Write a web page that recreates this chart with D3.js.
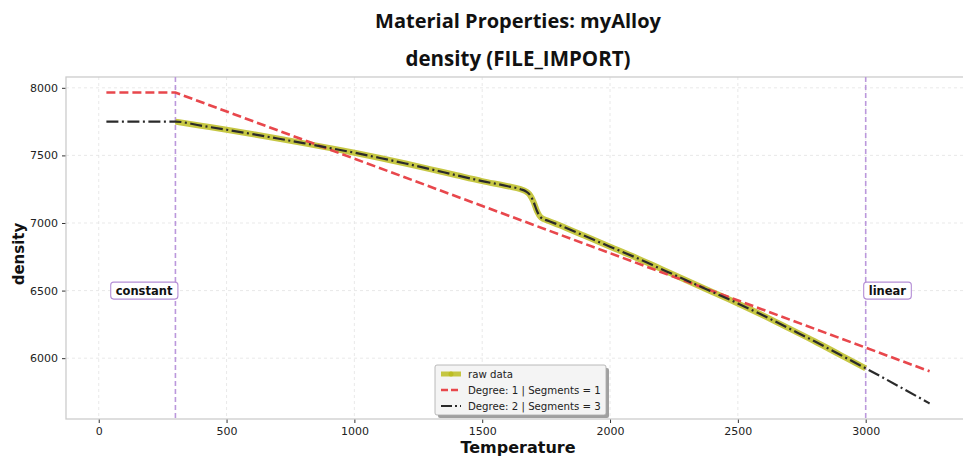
<!DOCTYPE html>
<html><head><meta charset="utf-8">
<script src="https://cdn.jsdelivr.net/npm/d3@7/dist/d3.min.js"></script>
<style>body{margin:0;background:#fff}svg{display:block}</style>
</head><body><div id="chart"></div>
<script>
// ---- data ----
const rawTemp = [300,400,500,600,700,800,900,1000,1100,1200,1300,1400,1500,1600,1650,1670,1685,1700,1715,1730,1760,1800,1900,2000,2100,2200,2300,2400,2500,2600,2700,2800,2900,3000];
const rawDensity = [7750,7720,7690,7658,7625,7591,7556,7520,7481,7440,7397,7353,7310,7272,7250,7235,7212,7160,7085,7040,7015,6985,6905,6825,6745,6660,6575,6490,6405,6315,6220,6125,6025,5925];
const fit1Temp = [30,300,3250];
const fit1Density = [7965,7965,5903];
const fit2ConstTemp = [30,300];
const fit2ConstDensity = [7750,7750];
const fit2ExtrapTemp = [3000,3250];
const fit2ExtrapDensity = [5925,5665];
const boundaries = [{t:300,label:"constant",side:"left"},{t:3000,label:"linear",side:"right"}];
const xTicks = [0,500,1000,1500,2000,2500,3000];
const yTicks = [6000,6500,7000,7500,8000];
const legendLabels = ["raw data","Degree: 1 | Segments = 1","Degree: 2 | Segments = 3"];

const W=963,H=457;
const m={l:66,r:970,t:77,b:419};
const svg=d3.select("#chart").append("svg").attr("width",W).attr("height",H);
const x=d3.scaleLinear().domain([-128,3408]).range([m.l,m.r]);
const y=d3.scaleLinear().domain([5550,8080]).range([m.b,m.t]);

svg.append("defs").append("clipPath").attr("id","clip").append("rect")
  .attr("x",m.l).attr("y",m.t).attr("width",m.r-m.l).attr("height",m.b-m.t);

// grid
const g=svg.append("g");
g.selectAll(".gx").data(xTicks).join("line").attr("x1",d=>x(d)).attr("x2",d=>x(d)).attr("y1",m.t).attr("y2",m.b)
 .attr("stroke","#e3e3e3").attr("stroke-width",0.8).attr("stroke-dasharray","3,3");
g.selectAll(".gy").data(yTicks).join("line").attr("y1",d=>y(d)).attr("y2",d=>y(d)).attr("x1",m.l).attr("x2",m.r)
 .attr("stroke","#e3e3e3").attr("stroke-width",0.8).attr("stroke-dasharray","3,3");

// axes
const xAxis=svg.append("g").attr("transform",`translate(0,${m.b})`)
  .call(d3.axisBottom(x).tickValues(xTicks).tickSize(4).tickPadding(4).tickFormat(d3.format("d")));
const yAxis=svg.append("g").attr("transform",`translate(${m.l},0)`)
  .call(d3.axisLeft(y).tickValues(yTicks).tickSize(4).tickPadding(4).tickFormat(d3.format("d")));
[xAxis,yAxis].forEach(a=>{a.select(".domain").remove();
  a.selectAll("text").attr("font-family","DejaVu Sans").attr("font-size",11).attr("fill","#222");
  a.selectAll("line").attr("stroke","#333");});

// frame
svg.append("rect").attr("x",m.l).attr("y",m.t).attr("width",m.r-m.l).attr("height",m.b-m.t)
  .attr("fill","none").attr("stroke","#cccccc").attr("stroke-width",1.3);

const plot=svg.append("g").attr("clip-path","url(#clip)");
const line=d3.line().x(d=>x(d[0])).y(d=>y(d[1]));
const rawPts=rawTemp.map((t,i)=>[t,rawDensity[i]]);

// vertical boundary lines
plot.selectAll(".vb").data(boundaries).join("line").attr("x1",d=>x(d.t)).attr("x2",d=>x(d.t))
  .attr("y1",m.t).attr("y2",m.b).attr("stroke","#bb98dc").attr("stroke-width",1.6).attr("stroke-dasharray","5,3");

// raw data
plot.append("path").datum(rawPts).attr("d",line.curve(d3.curveMonotoneX)).attr("fill","none")
  .attr("stroke","#bcbd22").attr("stroke-opacity",0.85).attr("stroke-width",6).attr("stroke-linejoin","round");
// fit 1
plot.append("path").datum(fit1Temp.map((t,i)=>[t,fit1Density[i]])).attr("d",line.curve(d3.curveLinear)).attr("fill","none")
  .attr("stroke","#e8474c").attr("stroke-width",2.6).attr("stroke-dasharray","9,4");
// fit 2
const fit2Pts=fit2ConstTemp.map((t,i)=>[t,fit2ConstDensity[i]])
  .concat(rawPts.slice(1))
  .concat(fit2ExtrapTemp.slice(1).map((t,i)=>[t,fit2ExtrapDensity[i+1]]));
plot.append("path").datum(fit2Pts).attr("d",line.curve(d3.curveMonotoneX)).attr("fill","none")
  .attr("stroke","#2a2a2a").attr("stroke-width",2.2).attr("stroke-dasharray","12,3.5,2,3.5");

// boundary labels
boundaries.forEach(b=>{
  const ty=y(6500);
  const lab=svg.append("g");
  const txt=lab.append("text").text(b.label).attr("font-family","DejaVu Sans").attr("font-weight","bold")
    .attr("font-size",11.5).attr("fill","#111").attr("dominant-baseline","central").attr("y",ty);
  if(b.side==="left"){txt.attr("text-anchor","end").attr("x",x(b.t)-3);}
  else{txt.attr("text-anchor","start").attr("x",x(b.t)+3);}
  const bb=txt.node().getBBox();
  lab.insert("rect","text").attr("x",bb.x-5).attr("y",ty-8.5).attr("width",bb.width+10).attr("height",17)
    .attr("rx",3).attr("fill","#fff").attr("stroke","#b48ed6").attr("stroke-width",1.1);
});

// legend
const lg=svg.append("g").attr("transform","translate(435,365)");
lg.append("rect").attr("x",3).attr("y",3).attr("width",171).attr("height",50).attr("rx",2).attr("fill","#888").attr("opacity",0.8);
lg.append("rect").attr("x",0).attr("y",0).attr("width",171).attr("height",50).attr("rx",2).attr("fill","#f4f4f4").attr("stroke","#aaa").attr("stroke-width",0.8);
const ly=[9,25,41];
lg.append("line").attr("x1",6).attr("x2",26).attr("y1",ly[0]).attr("y2",ly[0]).attr("stroke","#bcbd22").attr("stroke-opacity",0.85).attr("stroke-width",5);
lg.append("circle").attr("cx",16).attr("cy",ly[0]).attr("r",2.5).attr("fill","#bcbd22");
lg.append("line").attr("x1",6).attr("x2",26).attr("y1",ly[1]).attr("y2",ly[1]).attr("stroke","#e8474c").attr("stroke-width",2.4).attr("stroke-dasharray","7,3");
lg.append("line").attr("x1",6).attr("x2",26).attr("y1",ly[2]).attr("y2",ly[2]).attr("stroke","#2a2a2a").attr("stroke-width",2).attr("stroke-dasharray","11,3,2,3");
lg.selectAll(".lt").data(legendLabels).join("text").attr("x",33).attr("y",(d,i)=>ly[i]).attr("dominant-baseline","central")
  .attr("font-family","DejaVu Sans").attr("font-size",10.2).attr("fill","#222").text(d=>d);

// titles
const cx=(m.l+m.r)/2;
svg.append("text").attr("x",cx).attr("y",28).attr("text-anchor","middle").attr("font-family","Open Sans").attr("font-weight","bold")
  .attr("font-size",20).attr("fill","#111").text("Material Properties: myAlloy");
svg.append("text").attr("x",cx).attr("y",66).attr("text-anchor","middle").attr("font-family","Open Sans").attr("font-weight","bold")
  .attr("font-size",20.5).attr("fill","#111").text("density (FILE_IMPORT)");
svg.append("text").attr("x",cx).attr("y",453).attr("text-anchor","middle").attr("font-family","DejaVu Sans").attr("font-weight","bold")
  .attr("font-size",16).attr("fill","#111").text("Temperature");
svg.append("text").attr("transform",`translate(24,254) rotate(-90)`).attr("text-anchor","middle").attr("font-family","DejaVu Sans").attr("font-weight","bold")
  .attr("font-size",15).attr("fill","#111").text("density");
</script></body></html>
